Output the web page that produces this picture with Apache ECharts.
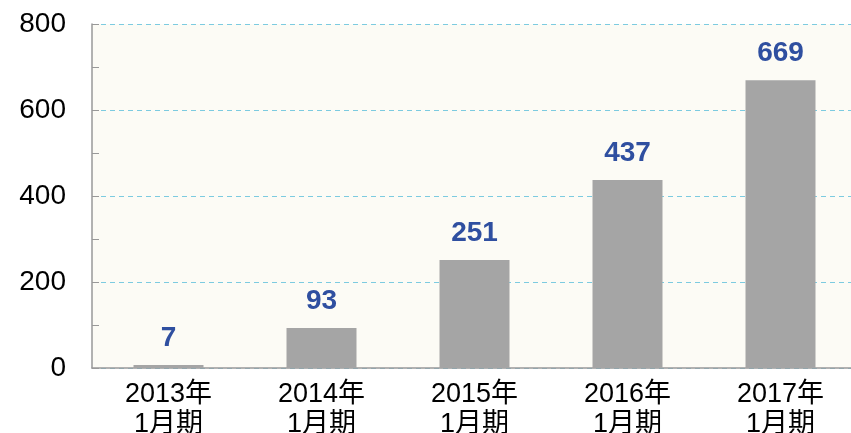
<!DOCTYPE html>
<html>
<head>
<meta charset="utf-8">
<script src="https://cdn.jsdelivr.net/npm/echarts@6/dist/echarts.min.js"></script>
<style>
  html, body { margin: 0; padding: 0; background: #fff; }
  #main { width: 851px; height: 433px; }
</style>
</head>
<body>
<div id="main"></div>
<script>
// 数据
const categories = ['2013年\n1月期', '2014年\n1月期', '2015年\n1月期', '2016年\n1月期', '2017年\n1月期'];
const values = [7, 93, 251, 437, 669];
const yTicks = [0, 200, 400, 600, 800];

const fontFamily = '"Liberation Sans", Arial, "Noto Sans CJK JP", sans-serif';
const myChart = echarts.init(document.getElementById('main'));

let option = {
  animation: false,
  grid: {
    left: 92,
    top: 24,
    width: 765,
    height: 344,
    outerBoundsMode: 'none', // 允许绘图区超出画布右边
    show: true,
    backgroundColor: '#fcfbf5',
    borderWidth: 0
  },
  xAxis: {
    type: 'category',
    data: categories,
    axisLine: { lineStyle: { color: '#999', width: 1.5 } },
    axisTick: { inside: true, length: 9, lineStyle: { color: '#999' } },
    axisLabel: {
      color: '#000',
      fontSize: 27,
      lineHeight: 30,
      margin: 12,
      fontFamily: fontFamily
    }
  },
  yAxis: {
    type: 'value',
    min: yTicks[0],
    max: yTicks[yTicks.length - 1],
    interval: 200,
    axisLine: { show: true, lineStyle: { color: '#999', width: 1.5 } },
    axisTick: { show: true, inside: true, length: 7, lineStyle: { color: '#999' } },
    minorTick: { show: true, splitNumber: 2, length: 7, lineStyle: { color: '#999' } },
    axisLabel: {
      color: '#000',
      fontSize: 28,
      margin: 26,
      fontFamily: fontFamily
    },
    splitLine: {
      show: true,
      lineStyle: { color: '#7ccbe0', width: 1, type: [5, 4] }
    }
  },
  series: [
    {
      type: 'bar',
      data: values,
      barWidth: 70,
      itemStyle: { color: '#a5a5a5' },
      label: {
        show: true,
        position: 'top',
        distance: 13,
        color: '#2f4fa0',
        fontSize: 28,
        fontWeight: 'bold',
        fontFamily: fontFamily
      }
    }
  ]
};

myChart.setOption(option);
</script>
</body>
</html>
